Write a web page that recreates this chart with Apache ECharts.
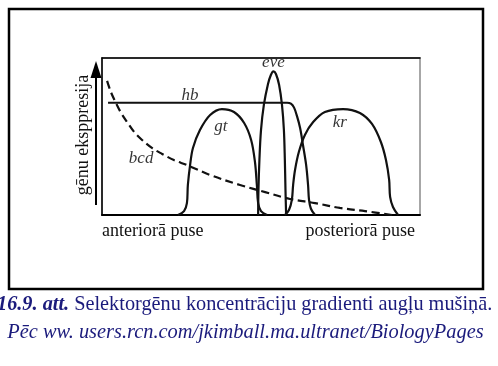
<!DOCTYPE html>
<html><head><meta charset="utf-8">
<script src="https://cdn.jsdelivr.net/npm/echarts@6/dist/echarts.min.js"></script>
<style>html,body{margin:0;padding:0;background:#fff}#c{width:498px;height:366px}</style>
</head><body><div id="c"></div>
<script>
// position along embryo (0..100), expression level (0..100)
const hb = [[1.9,71.5],[30,71.5],[58.2,71.5],[59.4,70.9],[60.4,68.4],[61.3,63.1],[62.3,55.4],[63.2,44.6],[64.2,31.8],[64.8,19.1],[65.1,9.6],[65.7,4.0],[67.0,0]];
const gt = [[23.9,0],[25.8,2.5],[26.7,7.6],[27.0,19.1],[27.7,31.8],[28.6,42.7],[30.8,54.1],[34.0,63.7],[37.7,67.5],[41.5,65.6],[44.7,58.6],[46.9,47.8],[48.1,33.8],[48.7,19.1],[49.1,7.6],[50.0,2.5],[51.9,0]];
const eve = [[49.1,0],[49.2,15.9],[49.5,35.0],[50.0,54.1],[50.9,70.1],[52.2,83.4],[53.1,89.2],[53.9,91.5],[54.7,89.8],[55.7,82.8],[56.6,70.1],[57.2,54.1],[57.5,35.0],[57.7,15.9],[57.9,0]];
const kr = [[57.5,0],[58.8,3.2],[59.7,9.6],[60.1,19.1],[60.7,28.7],[61.9,40.1],[63.8,51.0],[66.4,59.2],[70.1,65.6],[75.8,67.5],[81.1,65.0],[84.9,58.0],[87.7,46.5],[89.3,35.0],[90.3,22.3],[90.6,11.5],[91.5,5.1],[93.1,0]];
const bcd = [[1.6,85.4],[2.8,78.3],[4.4,71.3],[6.0,65.0],[7.9,59.2],[10.1,52.9],[12.6,47.8],[15.7,42.7],[18.9,38.9],[22.6,35.0],[26.7,31.8],[34.0,25.5],[43.4,19.1],[51.3,14.6],[59.1,10.2],[67.0,7.6],[74.8,4.5],[82.7,2.5],[91.2,0]];
const geneLabels = [
  {name:'hb', value:[27.7,75.8]},
  {name:'gt', value:[37.4,56.1]},
  {name:'eve', value:[53.9,96.8]},
  {name:'kr', value:[74.8,58.6]},
  {name:'bcd', value:[12.3,35.7]}
];
const yTitle = 'gēnu eksppresija';
const xLeft = 'anteriorā puse';
const xRight = 'posteriorā puse';
const cap1a = '16.9. att.';
const cap1b = ' Selektorgēnu koncentrāciju gradienti augļu mušiņā.';
const cap2 = 'Pēc ww. users.rcn.com/jkimball.ma.ultranet/BiologyPages';

const SERIF = '"Liberation Serif","Times New Roman",serif';
const chart = echarts.init(document.getElementById('c'), null, {renderer:'canvas'});
const lineS = (name, data, dashed) => ({
  name, type:'line', data, smooth:0.35, symbol:'none', clip:false, z:3,
  lineStyle:{color:'#111', width:2.2, type: dashed ? [8,4.5] : 'solid'}
});
chart.setOption({
  animation:false,
  grid:{left:102, top:58, width:318, height:157, show:true, borderColor:'#8a8a8a', borderWidth:1.5, backgroundColor:'transparent'},
  xAxis:[
    {type:'value', min:0, max:100, position:'bottom', axisLine:{show:true, onZero:false, lineStyle:{color:'#000', width:2}}, axisTick:{show:false}, axisLabel:{show:false}, splitLine:{show:false}},
    {type:'value', min:0, max:100, position:'top', axisLine:{show:true, onZero:false, lineStyle:{color:'#000', width:1.5}}, axisTick:{show:false}, axisLabel:{show:false}, splitLine:{show:false}}
  ],
  yAxis:{type:'value', min:0, max:100, axisLine:{show:true, onZero:false, lineStyle:{color:'#000', width:1.5}}, axisTick:{show:false}, axisLabel:{show:false}, splitLine:{show:false}},
  series:[
    lineS('bcd', bcd, true),
    lineS('hb', hb, false),
    lineS('gt', gt, false),
    lineS('eve', eve, false),
    lineS('kr', kr, false),
    {type:'scatter', data:geneLabels, symbolSize:0, clip:false, z:5,
     label:{show:true, position:'inside', formatter:p=>p.name, fontFamily:SERIF, fontStyle:'italic', fontSize:17, color:'#000', textBorderWidth:0}}
  ],
  graphic:[
    {type:'rect', shape:{x:9, y:9, width:474, height:280}, style:{fill:'none', stroke:'#000', lineWidth:2.5}},
    {type:'line', shape:{x1:96, y1:205, x2:96, y2:72}, style:{stroke:'#000', lineWidth:2}},
    {type:'polygon', shape:{points:[[96,61],[90.5,78],[101.5,78]]}, style:{fill:'#000'}},
    {type:'text', x:83, y:135, rotation:Math.PI/2, style:{text:yTitle, font:'18px '+SERIF, fill:'#111', align:'center', verticalAlign:'middle'}},
    {type:'text', x:102, y:231, style:{text:xLeft, font:'18px '+SERIF, fill:'#111', align:'left', verticalAlign:'middle'}},
    {type:'text', x:415, y:231, style:{text:xRight, font:'18px '+SERIF, fill:'#111', align:'right', verticalAlign:'middle'}},
    {type:'text', x:-3, y:305, style:{text:'{b|'+cap1a+'}{r|'+cap1b+'}', align:'left', verticalAlign:'middle',
      rich:{b:{font:'italic bold 20.3px '+SERIF, fill:'#1b1b7c'}, r:{font:'20.3px '+SERIF, fill:'#1b1b7c'}}}},
    {type:'text', x:245.5, y:333, style:{text:cap2, font:'italic 20.4px '+SERIF, fill:'#1b1b7c', align:'center', verticalAlign:'middle'}}
  ]
});
</script></body></html>
